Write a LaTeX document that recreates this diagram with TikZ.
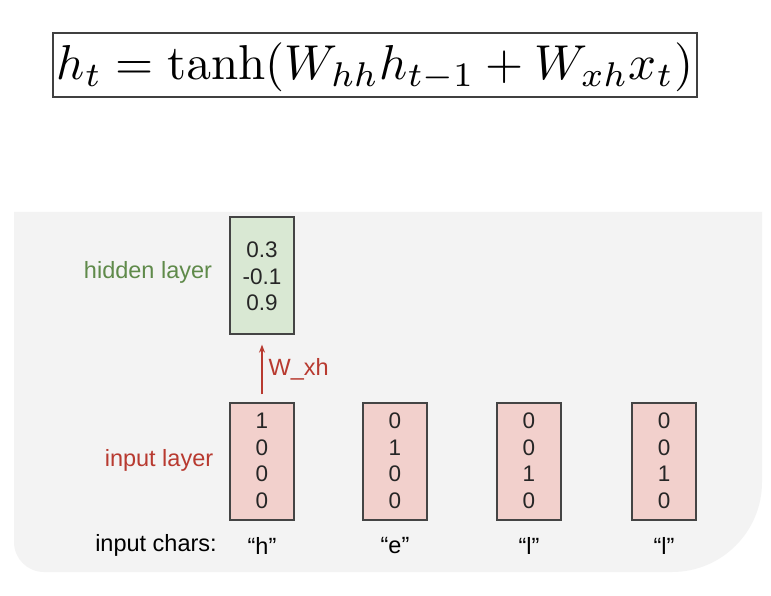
\documentclass[tikz,border=0pt]{standalone}
\usepackage[no-math]{fontspec}
\setmainfont{Liberation Sans}
\usepackage{tikz}
\usetikzlibrary{arrows.meta}
\definecolor{panelgray}{HTML}{F3F3F3}
\definecolor{hidfill}{HTML}{D9E8D3}
\definecolor{infill}{HTML}{F2D0CC}
\definecolor{boxline}{HTML}{444444}
\definecolor{hidtext}{HTML}{5F8A4A}
\definecolor{redtext}{HTML}{B83A30}
\tikzset{
  vecbox/.style={draw=boxline, line width=1.3pt, minimum width=64pt, minimum height=117pt, inner sep=0pt},
  num/.style={font=\fontsize{22.5}{26}\selectfont, text=black!85, inner sep=0pt},
  lbl/.style={font=\fontsize{23.5}{26}\selectfont, inner sep=0pt},
}
\begin{document}
\begin{tikzpicture}[x=1pt,y=-1pt]
\useasboundingbox (0,0) rectangle (771,596);
\fill[white] (0,0) rectangle (771,596);
% panel
\fill[panelgray] (14,212) -- (762,212) -- (762,482) .. controls (762,531.7) and (721.7,572) .. (672,572) -- (44,572) .. controls (27.4,572) and (14,558.6) .. (14,542) -- cycle;
% equation
\node[draw=black!75, line width=1.2pt, minimum width=644pt, minimum height=64pt, inner sep=0pt] (eqbox) at (375,65) {};
\node[scale=4.9, inner sep=0pt] (eq) at (375,67) {$h_t = \tanh(W_{hh}h_{t-1} + W_{xh}x_t)$};
% hidden
\node[vecbox, fill=hidfill] (hid) at (262,275.5) {};
\node[num] (h1) at (262,250) {0.3};
\node[num] (h2) at (262,276.5) {-0.1};
\node[num] (h3) at (262,303) {0.9};
\node[lbl, text=hidtext] (hidlbl) at (148,272) {hidden layer};
% inputs
\foreach \i/\x/\a/\b/\c/\d/\ch in {1/262/1/0/0/0/h, 2/395/0/1/0/0/e, 3/529/0/0/1/0/l, 4/664/0/0/1/0/l}{
  \node[vecbox, fill=infill] (in\i) at (\x,461.5) {};
  \node[num] at (\x,421) {\a};
  \node[num] at (\x,447.5) {\b};
  \node[num] at (\x,474) {\c};
  \node[num] at (\x,500.5) {\d};
  \node[lbl] (ch\i) at (\x,546) {“\ch”};
}
\node[lbl, text=redtext] (inlbl) at (159,460) {input layer};
\node[lbl] (chlbl) at (156,545) {input chars:};
% arrow
\draw[redtext, line width=1.2pt, -{Stealth[length=8pt,width=6pt]}] ([yshift=8pt]in1.north) -- ([yshift=-10pt]hid.south) node[pos=0.5, right=6pt, lbl, text=redtext] {W\_xh};
\end{tikzpicture}
\end{document}
